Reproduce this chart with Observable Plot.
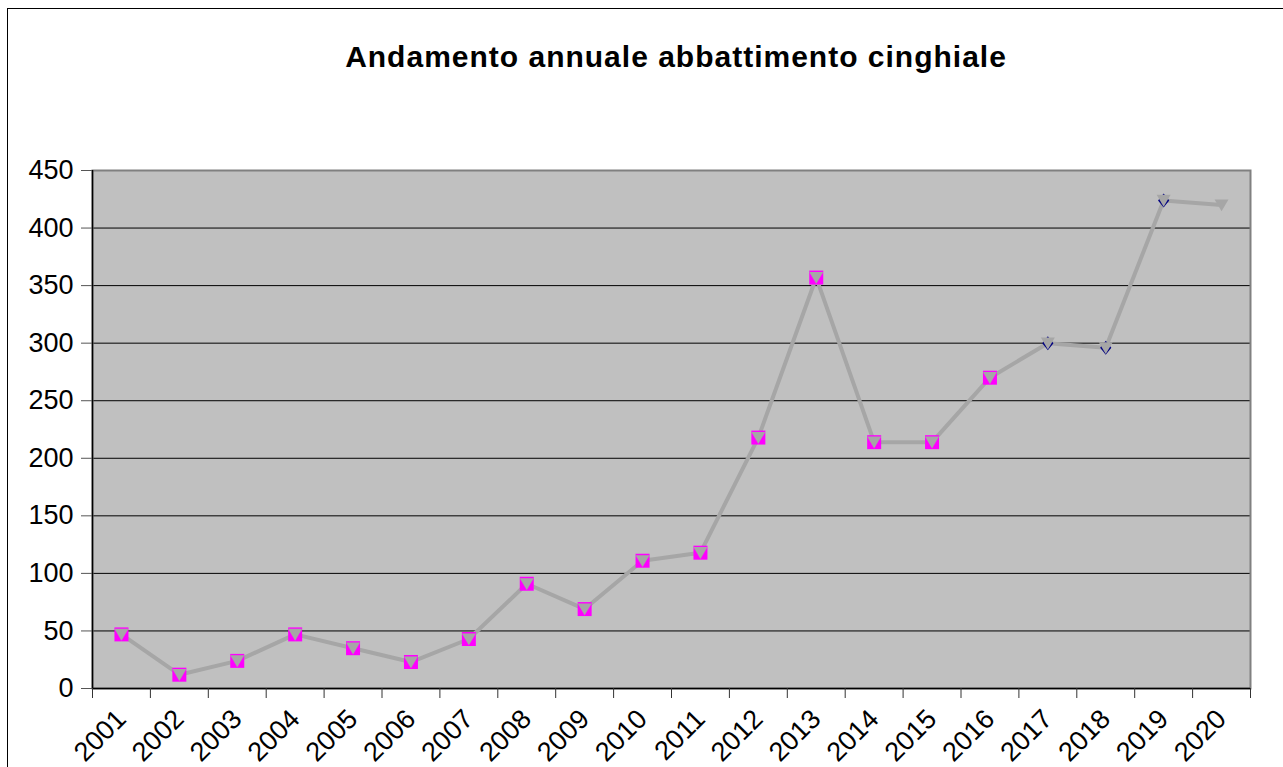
<!DOCTYPE html>
<html>
<head>
<meta charset="utf-8">
<script src="https://cdn.jsdelivr.net/npm/d3@7"></script>
<script src="https://cdn.jsdelivr.net/npm/@observablehq/plot@0.6"></script>
<style>
  html, body { margin: 0; padding: 0; background: #fff; width: 1283px; height: 767px; overflow: hidden; }
  #box { position: absolute; left: 7px; top: 8px; width: 1400px; height: 900px; border-left: 1px solid #000; border-top: 1px solid #000; }
  #title { position: absolute; left: 0; top: 40px; width: 1352px; text-align: center; font-family: "Liberation Sans", Arial, sans-serif; font-weight: bold; font-size: 30px; letter-spacing: 1px; line-height: 34px; color: #000; }
  #chart { position: absolute; left: 0; top: 100px; }
</style>
</head>
<body>
<div id="box"></div>
<div id="title">Andamento annuale abbattimento cinghiale</div>
<div id="chart"></div>
<script>
const years = [2001, 2002, 2003, 2004, 2005, 2006, 2007, 2008, 2009, 2010,
               2011, 2012, 2013, 2014, 2015, 2016, 2017, 2018, 2019, 2020];
const values = [47, 12, 24, 47, 35, 23, 43, 91, 69, 111,
                118, 218, 357, 214, 214, 270, 300, 296, 424, 420];
const yTicks = [0, 50, 100, 150, 200, 250, 300, 350, 400, 450];
const squareYears = years.slice(0, 16);       // magenta square markers
const diamondYears = [2017, 2018, 2019];      // navy diamond markers

const rows = years.map((year, i) => ({year, value: values[i]}));
const squares = rows.filter(d => squareYears.includes(d.year));
const diamonds = rows.filter(d => diamondYears.includes(d.year));
const boundaries = years.map(y => y - 0.5).concat([years[years.length - 1] + 0.5]);

const triangleDown = {
  draw(ctx, size) {
    const r = Math.sqrt(size / Math.PI);
    ctx.moveTo(-r, -0.8 * r);
    ctx.lineTo(r, -0.8 * r);
    ctx.lineTo(0, 0.9 * r);
    ctx.closePath();
  }
};
const squareSym = {
  draw(ctx, size) {
    const r = Math.sqrt(size / Math.PI);
    ctx.rect(-r, -r, 2 * r, 2 * r);
  }
};
const diamondSym = {
  draw(ctx, size) {
    const r = Math.sqrt(size / Math.PI);
    ctx.moveTo(0, -r); ctx.lineTo(0.8 * r, 0); ctx.lineTo(0, r); ctx.lineTo(-0.8 * r, 0); ctx.closePath();
  }
};

const chart = Plot.plot({
  width: 1283,
  height: 667,
  marginTop: 70,
  marginBottom: 79,
  marginLeft: 92,
  marginRight: 33,
  style: {fontFamily: "'Liberation Sans', Arial, sans-serif", fontSize: "27px", color: "#000", background: "transparent", overflow: "visible"},
  x: {type: "linear", domain: [years[0] - 0.5, years[years.length - 1] + 0.5]},
  y: {domain: [0, 450]},
  marks: [
    Plot.frame({fill: "#c0c0c0", stroke: null}),
    Plot.gridY(yTicks.slice(1), {stroke: "#000", strokeOpacity: 1, strokeWidth: 1}),
    Plot.frame({stroke: "#808080", strokeWidth: 2}),
    Plot.ruleY([0], {stroke: "#000", strokeWidth: 1.5}),
    Plot.ruleX([boundaries[0]], {stroke: "#000", strokeWidth: 1.5}),
    Plot.axisY(yTicks, {tickSize: 11, tickPadding: 8, stroke: "#555", label: null, fontSize: 27, fill: "#000"}),
    Plot.axisX(boundaries, {tickSize: 10, tickFormat: () => "", stroke: "#333", label: null}),
    Plot.axisX(years, {tickSize: 0, tickPadding: 26, tickRotate: -45, tickFormat: d => String(d), label: null, fontSize: 27, fill: "#000"}),
    Plot.line(rows, {x: "year", y: "value", stroke: "#a6a6a6", strokeWidth: 4}),
    Plot.dot(squares, {x: "year", y: "value", symbol: squareSym, r: 7, fill: "#ff00ff", stroke: null}),
    Plot.dot(diamonds, {x: "year", y: "value", symbol: diamondSym, r: 7, fill: "#000080", stroke: null}),
    Plot.dot(rows, {x: "year", y: "value", symbol: triangleDown, r: 7, fill: "#a6a6a6", stroke: null})
  ]
});
document.getElementById("chart").appendChild(chart);
</script>
</body>
</html>
